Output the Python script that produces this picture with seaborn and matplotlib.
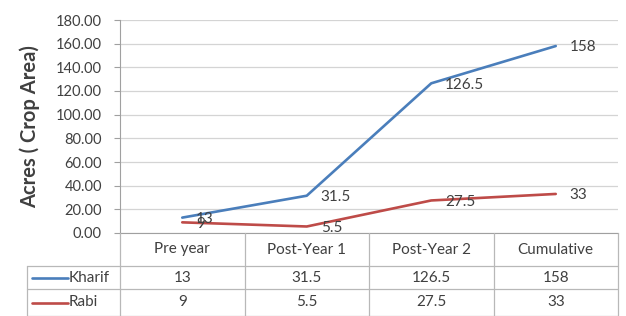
import matplotlib.pyplot as plt
import seaborn as sns
import pandas as pd

# data
periods = ["Pre year", "Post-Year 1", "Post-Year 2", "Cumulative"]
kharif = [13, 31.5, 126.5, 158]
rabi = [9, 5.5, 27.5, 33]
seasons = ["Kharif", "Rabi"]
colors = ["#4A7EBB", "#BE4B48"]

df = pd.DataFrame({
    "pos": list(range(len(periods))) * 2,
    "period": periods * 2,
    "acres": kharif + rabi,
    "season": [seasons[0]] * len(kharif) + [seasons[1]] * len(rabi),
})

sns.set_style("white")
plt.rcParams["font.family"] = ["Lato", "DejaVu Sans"]
text_col = "#404040"
grid_col = "#D4D4D4"

W, H = 626, 316
fig = plt.figure(figsize=(W / 100, H / 100), dpi=100)

# ---------- main line chart ----------
left, right, top, bottom = 120, 618, 20, 233
ax = fig.add_axes([left / W, 1 - bottom / H, (right - left) / W, (bottom - top) / H])

sns.lineplot(data=df, x="pos", y="acres", hue="season", palette=colors,
             linewidth=1.9, legend=False, ax=ax)

ax.set_xlim(-0.5, len(periods) - 0.5)
ax.set_ylim(0, 180)
ax.set_yticks(range(0, 181, 20))
ax.set_yticklabels([f"{v:.2f}" for v in range(0, 181, 20)], fontsize=10.5, color=text_col)
ax.set_xticks([])
ax.set_xlabel("")
ax.set_ylabel("Acres ( Crop Area)", fontsize=14.5, color=text_col, fontweight="bold")
ax.yaxis.set_label_coords(-0.16, 0.5)
ax.tick_params(axis="y", length=4, width=0.8, color="#A0A0A0", left=True, pad=9)
ax.grid(axis="y", color=grid_col, linewidth=0.9)
for s in ["top", "right"]:
    ax.spines[s].set_visible(False)
ax.spines["left"].set_color("#A0A0A0")
ax.spines["bottom"].set_color("#A0A0A0")

# data labels to the right of each point
for vals, c in zip([kharif, rabi], colors):
    for i, v in enumerate(vals):
        ax.annotate(f"{v:g}", (i, v), xytext=(10, -1), textcoords="offset points",
                    ha="left", va="center", fontsize=11, color=text_col)

# ---------- data table below ----------
tl, tr, ttop, tbot = 27, 618, 233, 316
tax = fig.add_axes([tl / W, 0, (tr - tl) / W, (tbot - ttop) / H])
tax.set_xlim(tl, tr)
tax.set_ylim(tbot, ttop)
tax.axis("off")

n = len(periods)
colw = (right - left) / n
edges = [left + colw * i for i in range(n + 1)]
rows = [233, 266, 289, 316]
lc = "#B8B8B8"

for x in edges:
    tax.plot([x, x], [rows[0], rows[-1]], color=lc, lw=0.9, clip_on=False)
for y in rows[1:]:
    tax.plot([tl, tr], [y, y], color=lc, lw=0.9, clip_on=False)
tax.plot([tl, tl], [rows[1], rows[-1]], color=lc, lw=0.9, clip_on=False)

for i, p in enumerate(periods):
    cx = left + colw * (i + 0.5)
    tax.text(cx, (rows[0] + rows[1]) / 2, p, ha="center", va="center",
             fontsize=11, color=text_col)

for r, (name, vals, c) in enumerate(zip(seasons, [kharif, rabi], colors)):
    cy = (rows[r + 1] + rows[r + 2]) / 2
    tax.plot([32, 68], [cy, cy], color=c, lw=1.9)
    tax.text(69, cy, name, ha="left", va="center", fontsize=11, color=text_col)
    for i, v in enumerate(vals):
        cx = left + colw * (i + 0.5)
        tax.text(cx, cy, f"{v:g}", ha="center", va="center", fontsize=11, color=text_col)

fig.savefig("out.png", dpi=100)
